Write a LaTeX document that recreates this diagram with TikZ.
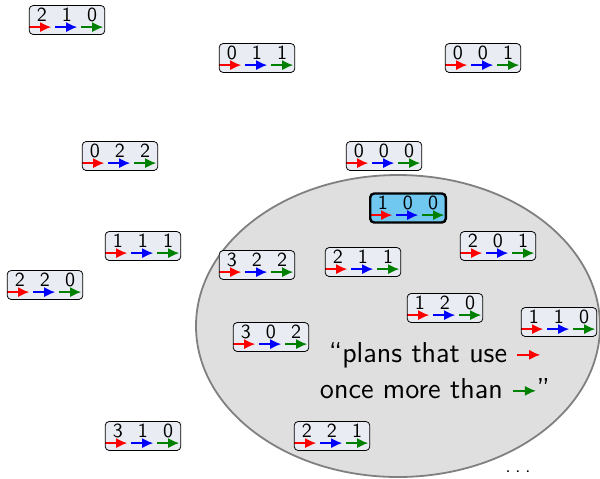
\documentclass[tikz,border=0pt]{standalone}
\usepackage{fontspec}
\renewcommand{\familydefault}{\sfdefault}
\usetikzlibrary{arrows.meta}
\definecolor{planfill}{RGB}{233,236,242}
\definecolor{planhl}{RGB}{112,200,240}
\definecolor{plangreen}{RGB}{0,128,0}
\newcommand{\digits}[3]{\makebox[12.6pt]{#1}\makebox[12.6pt]{#2}\makebox[12.6pt]{#3}}
\newcommand{\inarrow}[1]{\tikz[baseline=-4pt]\draw[#1, line width=0.8pt,
  -{Latex[length=5.5pt,width=5pt]}] (0pt,0pt) -- (11.5pt,0pt);}
\begin{document}
\begin{tikzpicture}[x=0.5pt,y=-0.5pt]
\tikzset{plan/.style=
    {draw, rounded corners=2pt, fill=planfill, inner sep=0pt,
     text height=8.2pt, text depth=6.3pt,
     path picture={
       \foreach \c [count=\i from 0] in {red,blue,plangreen}
         \draw[\c, line width=0.8pt, -{Latex[length=5.5pt,width=5pt]}]
           ([xshift=\i*13pt, yshift=3.7pt]path picture bounding box.south west)
           -- +(11pt,0pt);}}}
\tikzstyle{planhigh} = [plan, fill=planhl, very thick]
\tikzstyle{blob} = [draw=gray, fill=gray!25, line width=0.9pt]
\useasboundingbox (0,0) rectangle (600,478);
	\draw[blob] (398,326) ellipse [x radius=101pt, y radius=75.5pt];
	% plans outside
	\node[plan] (p210) at (67,20) {\digits{2}{1}{0}};
	\node[plan] (p011) at (257,58) {\digits{0}{1}{1}};
	\node[plan] (p001) at (483,58) {\digits{0}{0}{1}};
	\node[plan] (p022) at (120,156) {\digits{0}{2}{2}};
	\node[plan] (p000) at (384,156) {\digits{0}{0}{0}};
	\node[plan] (p111) at (143,246) {\digits{1}{1}{1}};
	\node[plan] (p220) at (45,285) {\digits{2}{2}{0}};
	\node[plan] (p310) at (143,436) {\digits{3}{1}{0}};
	% plans inside
	\node[planhigh] (p100) at (408,208) {\digits{1}{0}{0}};
	\node[plan] (p201) at (498,246) {\digits{2}{0}{1}};
	\node[plan] (p322) at (257,265) {\digits{3}{2}{2}};
	\node[plan] (p211) at (363,262) {\digits{2}{1}{1}};
	\node[plan] (p120) at (445,308) {\digits{1}{2}{0}};
	\node[plan] (p110) at (559,322) {\digits{1}{1}{0}};
	\node[plan] (p302) at (271,337) {\digits{3}{0}{2}};
	\node[plan] (p221) at (332,436) {\digits{2}{2}{1}};
	\node[align=center, font=\Large] (caption) at (435,371)
	  {``plans that use \inarrow{red}\\ once more than \inarrow{plangreen}''};
	\node[anchor=base] (more) at (518,472) {.\kern2.2pt.\kern2.2pt.};
\end{tikzpicture}
\end{document}
